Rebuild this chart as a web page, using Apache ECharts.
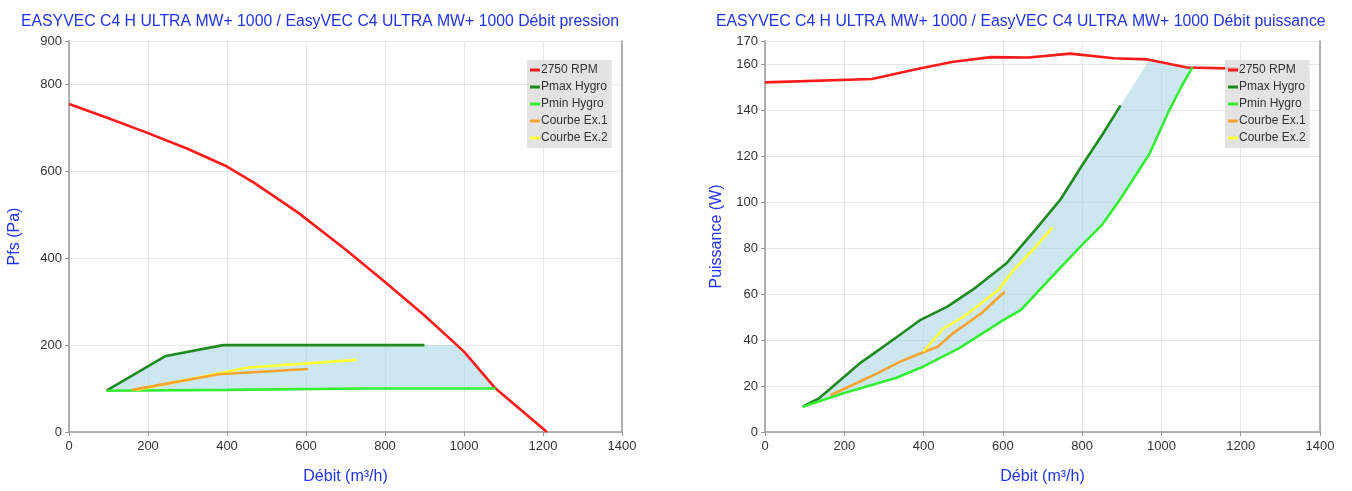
<!DOCTYPE html>
<html>
<head>
<meta charset="utf-8">
<script src="https://cdn.jsdelivr.net/npm/echarts@6/dist/echarts.min.js"></script>
<style>
  html, body { margin: 0; padding: 0; background: #fff; }
  #chart { width: 1352px; height: 491px; }
</style>
</head>
<body>
<div id="chart"></div>
<script>
// courbes débit / pression (Pa)
const rpmPression = [[0, 755], [100, 722], [200, 688], [300, 652], [400, 611], [470, 573], [580, 505],
    [700, 420], [800, 345], [900, 268], [1000, 185], [1080, 100], [1210, 0]];
const pmaxPression = [[95, 95], [245, 175], [390, 200], [900, 200]];
const pminPression = [[95, 95], [400, 97], [750, 100], [1080, 100]];
const ex1Pression = [[160, 97], [380, 133], [605, 145]];
const ex2Pression = [[170, 97], [380, 135], [450, 148], [728, 166]];
const zonePression = [[95, 95], [245, 175], [390, 200], [900, 200], [982, 200], [1000, 185], [1080, 100],
    [750, 100], [400, 97], [95, 95]];

// courbes débit / puissance (W)
const rpmPuissance = [[0, 152], [270, 153.5], [390, 158], [475, 161], [570, 163], [665, 162.8], [770, 164.5],
    [880, 162.5], [965, 162], [1065, 158.5], [1200, 158]];
const pmaxPuissance = [[95, 11], [135, 14.5], [210, 25.5], [240, 30], [265, 33], [330, 41], [390, 48.5],
    [460, 54.5], [525, 62], [610, 73.5], [685, 88.5], [745, 101], [800, 116], [850, 129], [897, 142]];
const pminPuissance = [[95, 11], [200, 17], [330, 23.5], [400, 28.5], [490, 36.5], [600, 48.5], [645, 53],
    [710, 65], [795, 80.5], [850, 90], [895, 101], [970, 121], [1020, 140], [1050, 150], [1078, 158.5]];
const ex1Puissance = [[165, 16], [265, 24], [340, 30.5], [390, 34], [435, 37], [475, 43], [545, 51.5], [605, 61]];
const ex2Puissance = [[400, 35], [450, 45], [500, 50], [550, 56.5], [590, 62], [625, 70], [680, 80], [725, 89]];
const zonePuissance = pmaxPuissance.concat([[970, 162], [1078, 158.5]], pminPuissance.slice().reverse());

const noms = ['2750 RPM', 'Pmax Hygro', 'Pmin Hygro', 'Courbe Ex.1', 'Courbe Ex.2'];
const couleurs = ['#ff1a1a', '#1f8a1f', '#33ee33', '#f7a431', '#ffff33'];

let myChart = echarts.init(document.getElementById('chart'));

function zone(idx, pts) {
    return {
        type: 'custom',
        xAxisIndex: idx,
        yAxisIndex: idx * 2,
        z: 1,
        silent: true,
        data: [0],
        renderItem: function(params, api) {
            return {
                type: 'polygon',
                shape: { points: pts.map(p => api.coord(p)) },
                style: { fill: 'rgba(173,216,230,0.62)' }
            };
        }
    };
}

function courbe(idx, k, data) {
    return {
        name: noms[k],
        type: 'line',
        xAxisIndex: idx,
        yAxisIndex: idx * 2,
        data: data,
        showSymbol: false,
        z: 3,
        lineStyle: { color: couleurs[k], width: 2.6 },
        itemStyle: { color: couleurs[k] }
    };
}

function axeX(idx) {
    return {
        type: 'value', gridIndex: idx, min: 0, max: 1400, interval: 200,
        name: 'Débit (m³/h)', nameLocation: 'middle', nameGap: 37,
        nameTextStyle: { color: '#2233ee', fontSize: 16, fontFamily: 'Liberation Sans' },
        axisLine: { lineStyle: { color: '#999', width: 1.5 } },
        axisTick: { show: true, length: 4, lineStyle: { color: '#999' } },
        axisLabel: { color: '#333', fontSize: 13, fontFamily: 'Liberation Sans', margin: 8,
            formatter: v => String(v) },
        splitLine: { show: true, lineStyle: { color: '#e8e8e8' } }
    };
}

function axeY(idx, nom, max, gap) {
    return [{
        type: 'value', gridIndex: idx, min: 0, max: max, interval: 20 * (max > 200 ? 10 : 1),
        name: nom, nameLocation: 'middle', nameGap: gap,
        nameTextStyle: { color: '#2233ee', fontSize: 16, fontFamily: 'Liberation Sans' },
        axisLine: { show: true, lineStyle: { color: '#999', width: 1.5 } },
        axisTick: { show: true, length: 4, lineStyle: { color: '#999' } },
        axisLabel: { color: '#333', fontSize: 13, fontFamily: 'Liberation Sans', margin: 7 },
        splitLine: { show: true, lineStyle: { color: '#e8e8e8' } }
    }, {
        type: 'value', gridIndex: idx, position: 'right', min: 0, max: max,
        axisLine: { show: true, lineStyle: { color: '#999', width: 1.5 } },
        axisTick: { show: false }, axisLabel: { show: false }, splitLine: { show: false }
    }];
}

function legende(left) {
    return {
        data: noms.map((n, k) => ({ name: n, itemStyle: { color: couleurs[k] } })),
        orient: 'vertical',
        left: left,
        top: 60,
        icon: 'rect',
        itemWidth: 10,
        itemHeight: 3,
        itemGap: 5,
        padding: [4, 4, 4, 3],
        backgroundColor: 'rgba(222,222,222,0.85)',
        textStyle: { color: '#333', fontSize: 12, fontFamily: 'Liberation Sans', padding: [0, 0, 0, -4] },
        selectedMode: false
    };
}

let option = {
    animation: false,
    title: [{
        text: 'EASYVEC C4 H ULTRA MW+ 1000 / EasyVEC C4 ULTRA MW+ 1000 Débit pression',
        left: 16, top: 9,
        textStyle: { color: '#2233ee', fontSize: 15.8, fontWeight: 'normal', fontFamily: 'Liberation Sans' }
    }, {
        text: 'EASYVEC C4 H ULTRA MW+ 1000 / EasyVEC C4 ULTRA MW+ 1000 Débit puissance',
        left: 711, top: 9,
        textStyle: { color: '#2233ee', fontSize: 15.8, fontWeight: 'normal', fontFamily: 'Liberation Sans' }
    }],
    legend: [legende(527), legende(1225)],
    grid: [
        { left: 69, right: 730, top: 41, bottom: 59 },
        { left: 765, right: 32, top: 41, bottom: 59 }
    ],
    xAxis: [axeX(0), axeX(1)],
    yAxis: axeY(0, 'Pfs (Pa)', 900, 46).concat(axeY(1, 'Puissance (W)', 170, 40)),
    series: [
        zone(0, zonePression),
        courbe(0, 0, rpmPression),
        courbe(0, 1, pmaxPression),
        courbe(0, 2, pminPression),
        courbe(0, 4, ex2Pression),
        courbe(0, 3, ex1Pression),
        zone(1, zonePuissance),
        courbe(1, 0, rpmPuissance),
        courbe(1, 1, pmaxPuissance),
        courbe(1, 2, pminPuissance),
        courbe(1, 3, ex1Puissance),
        courbe(1, 4, ex2Puissance)
    ]
};

myChart.setOption(option);

window.addEventListener('resize', function() {
    myChart.resize();
});
</script>
</body>
</html>
